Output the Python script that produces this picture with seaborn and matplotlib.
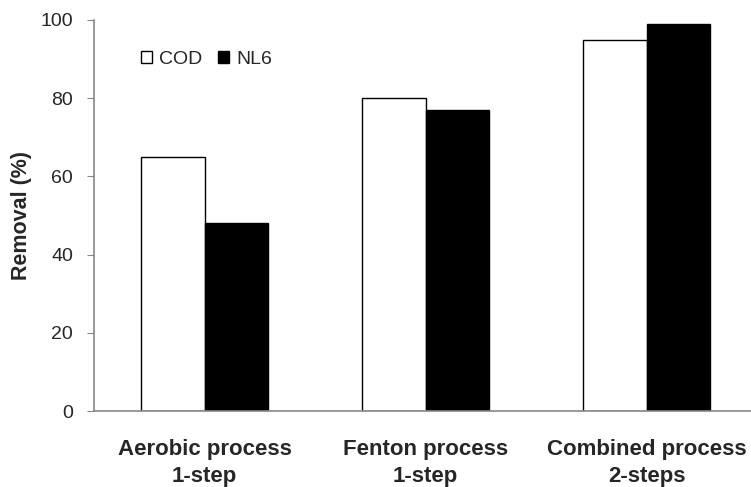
import matplotlib
matplotlib.use("Agg")
import matplotlib.pyplot as plt
import seaborn as sns
import pandas as pd

processes = ["Aerobic process\n1-step", "Fenton process\n1-step", "Combined process\n2-steps"]
cod = [65, 80, 95]
nl6 = [48, 77, 99]
yticks = [0, 20, 40, 60, 80, 100]

df = pd.DataFrame({
    "process": processes * 2,
    "removal": cod + nl6,
    "series": ["COD"] * 3 + ["NL6"] * 3,
})

sns.set_style("white")
plt.rcParams["font.family"] = ["Liberation Sans", "DejaVu Sans"]

fig = plt.figure(figsize=(7.51, 4.87), dpi=100)
ax = fig.add_axes([0.1252, 0.156, 0.8828, 0.803])

sns.barplot(data=df, x="process", y="removal", hue="series",
            palette=["white", "black"], edgecolor="black", linewidth=1,
            width=0.575, ax=ax)

ax.set_xlim(-0.5, 2.5)
ax.set_ylim(0, 100)
ax.set_yticks(yticks)
ax.set_yticklabels([str(v) for v in yticks], fontsize=14)
ax.set_xticks([-0.5, 0.5, 1.5])
ax.set_xticklabels([])
ax.set_xticks([0, 1, 2], minor=True)
ax.set_xticklabels(processes, minor=True, fontsize=16, fontweight="bold",
                   linespacing=1.4)
ax.tick_params(axis="x", which="minor", length=0, pad=20)
ax.tick_params(axis="x", which="major", length=5, color="#888888", direction="out")
ax.tick_params(axis="y", length=5, color="#888888", direction="out", left=True, pad=10)

for side in ["top", "right"]:
    ax.spines[side].set_visible(False)
for side in ["left", "bottom"]:
    ax.spines[side].set_color("#888888")
    ax.spines[side].set_linewidth(1.2)

ax.set_xlabel("")
ax.set_ylabel("Removal (%)", fontsize=15.5, fontweight="bold", labelpad=6)

leg = ax.legend(loc="upper left", bbox_to_anchor=(0.059, 0.94), ncol=2, frameon=False,
                fontsize=14, handlelength=0.55, handleheight=0.55, handletextpad=0.4,
                columnspacing=0.8, borderaxespad=0)

fig.savefig("out.png", dpi=100)
